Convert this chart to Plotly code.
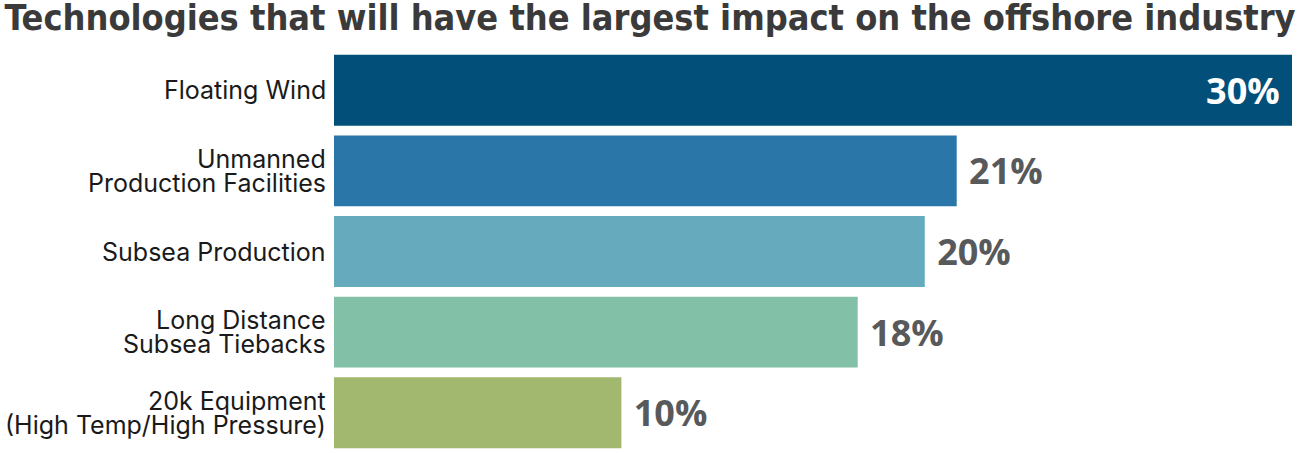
import plotly.graph_objects as go

categories = [
    "Floating Wind",
    "Unmanned<br>Production Facilities",
    "Subsea Production",
    "Long Distance<br>Subsea Tiebacks",
    "20k Equipment<br>(High Temp/High Pressure)",
]
# bar lengths as drawn in the picture (percent scale, 0-30)
bar_lengths = [30.0, 19.5, 18.5, 16.4, 9.0]
value_labels = ["30%", "21%", "20%", "18%", "10%"]
bar_colors = ["#024f7a", "#2b76a8", "#66abbd", "#82c0a8", "#a1b86e"]

positions = ["inside", "outside", "outside", "outside", "outside"]
texts = [
    (lab + "\u00a0") if pos == "inside" else ("\u00a0" + lab)
    for lab, pos in zip(value_labels, positions)
]

fig = go.Figure(
    go.Bar(
        x=bar_lengths,
        y=categories,
        orientation="h",
        marker=dict(color=bar_colors, line=dict(width=0)),
        text=texts,
        textposition=positions,
        insidetextanchor="end",
        insidetextfont=dict(color="#ffffff", size=36, family="Open Sans", weight="bold"),
        outsidetextfont=dict(color="#58595b", size=36, family="Open Sans", weight="bold"),
        constraintext="none",
        cliponaxis=False,
        hoverinfo="skip",
    )
)

# category labels, one annotation per line for tight leading
line_gap = 24
for cat in categories:
    lines = cat.split("<br>")
    n = len(lines)
    for i, line in enumerate(lines):
        shift = ((n - 1) / 2 - i) * line_gap
        fig.add_annotation(
            text=line,
            x=0,
            xref="paper",
            xanchor="right",
            xshift=-6,
            y=cat,
            yref="y",
            yanchor="middle",
            yshift=shift,
            showarrow=False,
            font=dict(family="Inter", size=25, color="#1a1a1a"),
        )

fig.update_layout(
    width=1300,
    height=453,
    margin=dict(l=334, r=8, t=50, b=0),
    paper_bgcolor="white",
    plot_bgcolor="white",
    bargap=0.12,
    showlegend=False,
    title=dict(
        text="Technologies that will have the largest impact on the offshore industry",
        x=0.5,
        xref="container",
        xanchor="center",
        y=1 - 17 / 453,
        yref="container",
        yanchor="middle",
        font=dict(family="DejaVu Sans Condensed, Roboto", size=35.8, color="#3a3a3a", weight=700),
        pad=dict(t=0, b=0),
    ),
    xaxis=dict(
        range=[0, 30],
        visible=False,
        fixedrange=True,
    ),
    yaxis=dict(
        autorange="reversed",
        showgrid=False,
        showline=False,
        zeroline=False,
        ticks="",
        showticklabels=False,
        fixedrange=True,
    ),
)

fig.write_html(
    "out.html",
    config={"displayModeBar": False},
    post_script="document.body.style.margin='0';document.body.style.padding='0';",
)
